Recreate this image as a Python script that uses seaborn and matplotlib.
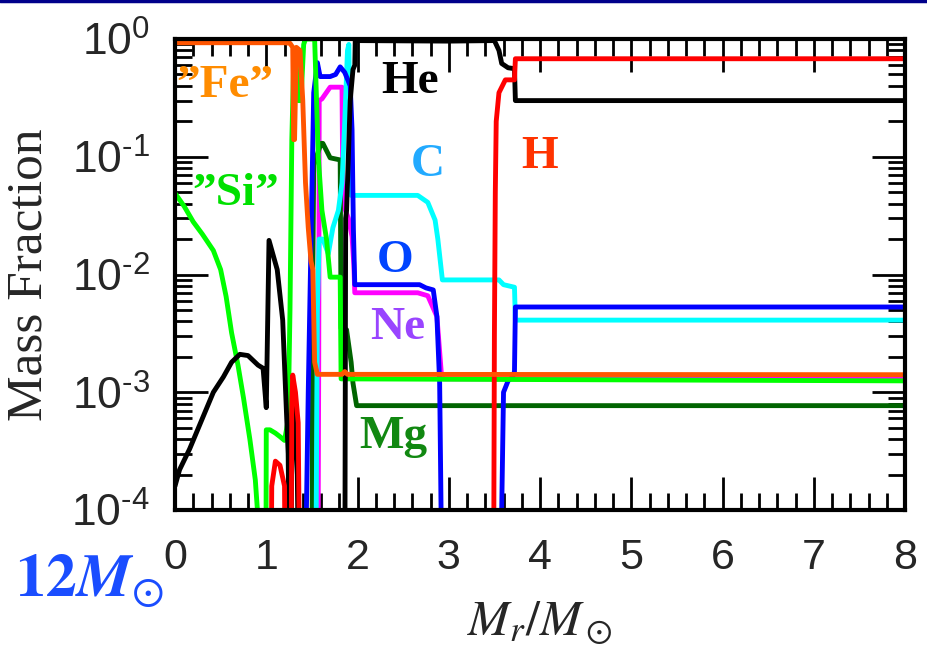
import numpy as np
import pandas as pd
import matplotlib
matplotlib.use("Agg")
import matplotlib.pyplot as plt
import seaborn as sns
from matplotlib.ticker import LogLocator, MultipleLocator, FuncFormatter, NullFormatter

# mass fraction profiles of the 12 Msun pre-supernova star
# values of 1e-5 mean "below the plotted range"
fe_x = [0, 1.20, 1.26, 1.29, 1.30, 1.31, 1.33, 1.37, 1.40, 1.43, 1.46, 1.49, 1.51, 1.53, 1.56, 1.83, 1.86, 1.89, 8]
fe_y = [0.93, 0.93, 0.92, 0.85, 0.14, 0.14, 0.85, 0.8, 0.3, 0.06, 0.025, 0.013, 0.011, 0.0018, 0.00142, 0.00142, 0.0015, 0.00142, 0.00141]

si_x = [0, 0.1, 0.2, 0.3, 0.42, 0.5, 0.56, 0.62, 0.69, 0.75, 0.82, 0.88, 0.93, 0.995, 1.0, 1.04, 1.10, 1.15, 1.20, 1.24, 1.26, 1.28, 1.30, 1.32, 1.35, 1.38, 1.41, 1.43, 1.53, 1.57, 1.61, 1.66, 1.70, 1.81, 1.82, 8]
si_y = [0.049, 0.038, 0.028, 0.022, 0.016, 0.011, 0.0065, 0.0032, 0.0017, 0.0009, 0.0004, 0.00018, 5e-5, 1e-5, 4.8e-4, 4.8e-4, 4.5e-4, 4.2e-4, 3.9e-4, 5.8e-4, 0.005, 0.14, 0.6, 0.8, 0.3, 0.3, 0.9, 1.0, 1.0, 0.1, 0.035, 0.02, 0.0095, 0.0095, 0.0013, 0.00125]

he_x = [0, 0.05, 0.16, 0.3, 0.42, 0.53, 0.62, 0.71, 0.80, 0.91, 0.965, 1.0, 1.03, 1.12, 1.18, 1.24, 1.26, 1.27, 1.28, 1.29, 1.31, 1.34, 1.36, 1.86, 1.87, 1.88, 1.92, 1.95, 1.97, 1.975, 3.0, 3.50, 3.55, 3.58, 3.65, 3.72, 3.73, 8]
he_y = [1.6e-4, 2.2e-4, 3.3e-4, 6e-4, 1e-3, 1.35e-3, 1.8e-3, 2.1e-3, 2.05e-3, 1.7e-3, 1.6e-3, 7.4e-4, 0.0195, 0.011, 0.0041, 3e-4, 1e-5, 1e-5, 5e-4, 9e-4, 6e-4, 2e-4, 1e-5, 1e-5, 0.03, 0.035, 0.3, 0.55, 0.6, 0.97, 0.96, 0.97, 0.8, 0.62, 0.57, 0.56, 0.30, 0.30]

h_x = [0, 1.05, 1.06, 1.10, 1.15, 1.20, 1.21, 1.27, 1.28, 1.29, 1.32, 1.35, 1.37, 3.49, 3.50, 3.51, 3.52, 3.55, 3.62, 3.72, 3.73, 8]
h_y = [1e-5, 1e-5, 1.6e-4, 2.6e-4, 2.4e-4, 1.6e-4, 1e-5, 1e-5, 8e-4, 1.4e-3, 1e-3, 5.5e-4, 1e-5, 1e-5, 0.003, 0.05, 0.2, 0.35, 0.45, 0.45, 0.68, 0.68]

o_x = [0, 1.42, 1.46, 1.50, 1.52, 1.56, 1.59, 1.70, 1.76, 1.81, 1.86, 1.92, 1.94, 1.955, 1.97, 2.68, 2.75, 2.83, 2.87, 2.90, 2.93, 3.56, 3.60, 3.65, 3.70, 3.72, 3.73, 8]
o_y = [1e-5, 1e-5, 0.001, 0.05, 0.35, 0.63, 0.48, 0.48, 0.5, 0.58, 0.52, 0.4, 0.17, 0.024, 0.0082, 0.0082, 0.0077, 0.0074, 0.0044, 0.0012, 1e-5, 1e-5, 1e-3, 1.25e-3, 1.35e-3, 1.5e-3, 0.0053, 0.0053]

c_x = [0, 1.54, 1.56, 1.58, 1.62, 1.68, 1.73, 1.79, 1.83, 1.86, 1.89, 1.905, 1.915, 1.93, 2.66, 2.77, 2.85, 2.88, 2.93, 3.55, 3.60, 3.72, 3.73, 8]
c_y = [1e-5, 1e-5, 0.005, 0.02, 0.02, 0.015, 0.025, 0.035, 0.06, 0.2, 0.8, 0.9, 0.2, 0.047, 0.047, 0.041, 0.029, 0.02, 0.009, 0.009, 0.0082, 0.0078, 0.0041, 0.0041]

ne_x = [0, 1.565, 1.575, 1.58, 1.61, 1.70, 1.83, 1.84, 1.90, 1.94, 1.96, 1.97, 2.66, 2.77, 2.87, 2.92, 2.94, 8]
ne_y = [1e-5, 1e-5, 0.002, 0.3, 0.31, 0.39, 0.39, 0.04, 0.03, 0.021, 0.012, 0.0070, 0.0070, 0.0066, 0.0044, 0.0014, 0.0013, 0.0013]

mg_x = [0, 1.50, 1.51, 1.52, 1.60, 1.62, 1.70, 1.81, 1.82, 1.88, 1.93, 1.95, 1.99, 8]
mg_y = [1e-5, 1e-5, 0.01, 0.085, 0.13, 0.13, 0.098, 0.094, 0.0035, 0.0034, 0.0018, 0.0012, 0.00077, 0.00077]

species = ["Ne", "Mg", "C", "O", "Si", "He", "H", "Fe"]
line_colors = {"He": "#000000", "H": "#ff0000", "C": "#00ffff", "O": "#0000ff",
               "Ne": "#ff00ff", "Mg": "#006400", "Si": "#00ff00", "Fe": "#ff5500"}

# text labels: name, x, y, colour
labels = [("\u201dFe\u201d", 0.55, 0.40, "#ff8c00"),
          ("\u201dSi\u201d", 0.66, 0.048, "#00e000"),
          ("He", 2.58, 0.43, "#000000"),
          ("C", 2.77, 0.085, "#22aaff"),
          ("H", 4.0, 0.10, "#ff3300"),
          ("O", 2.41, 0.013, "#0044ff"),
          ("Ne", 2.44, 0.0035, "#9944ff"),
          ("Mg", 2.39, 4.2e-4, "#118811")]

data = {"Fe": (fe_x, fe_y), "Si": (si_x, si_y), "He": (he_x, he_y), "H": (h_x, h_y),
        "O": (o_x, o_y), "C": (c_x, c_y), "Ne": (ne_x, ne_y), "Mg": (mg_x, mg_y)}
frames = []
for name in species:
    xs, ys = data[name]
    frames.append(pd.DataFrame({"Mr": xs, "X": ys, "species": name}))
df = pd.concat(frames, ignore_index=True)

sns.set_theme(style="ticks")
plt.rcParams['font.family'] = ['Liberation Sans', 'DejaVu Sans']
plt.rcParams['mathtext.fontset'] = 'custom'
plt.rcParams['mathtext.rm'] = 'Liberation Sans'
plt.rcParams['mathtext.it'] = 'Liberation Sans:italic'
plt.rcParams['mathtext.bf'] = 'Liberation Sans:bold'

fig = plt.figure(figsize=(9.27, 6.57), dpi=100)
ax = fig.add_axes([0.1888, 0.2237, 0.7875, 0.7169])

sns.lineplot(data=df, x="Mr", y="X", hue="species", hue_order=species,
             palette=line_colors, sort=False, estimator=None, linewidth=3.5,
             legend=False, ax=ax)

ax.set_yscale("log")
ax.set_xlim(0, 8)
ax.set_ylim(1e-4, 1)

ax.xaxis.set_major_locator(MultipleLocator(1))
ax.xaxis.set_minor_locator(MultipleLocator(0.2))
ax.yaxis.set_major_locator(LogLocator(base=10, numticks=10))
ax.yaxis.set_minor_locator(LogLocator(base=10, subs=np.arange(2, 10), numticks=20))
ax.yaxis.set_minor_formatter(NullFormatter())
ax.yaxis.set_major_formatter(FuncFormatter(lambda v, p: r"$10^{\mathrm{%s}}$" % str(int(round(np.log10(v)))).replace("-", "\u2010")))

ax.tick_params(which="both", direction="in", top=True, right=True, width=2, color="black")
ax.tick_params(which="major", length=24, labelsize=31)
ax.tick_params(axis="y", which="major", labelsize=32, pad=18)
ax.tick_params(axis="x", which="major", pad=20)
ax.tick_params(which="minor", length=12)
for sp in ax.spines.values():
    sp.set_linewidth(3)
    sp.set_color("black")

ax.set_ylabel("Mass Fraction", family="Liberation Serif", fontsize=37)
ax.yaxis.set_label_coords(-0.168, 0.5)
ax.set_xlabel(r"$M_r/M_\odot$", fontsize=36, math_fontfamily="stix")
ax.xaxis.set_label_coords(0.5, -0.19)

for text, x, y, col in labels:
    ax.text(x, y, text, color=col, fontsize=34, fontweight="bold",
            family="Liberation Serif", ha="center", va="center")

fig.text(0.097, 0.117, r"$\mathbf{12}\mathbfit{M}_{\odot}$", color="#1a4dff",
         fontsize=44, math_fontfamily="stix", ha="center", va="center")

fig.add_artist(plt.Line2D([0, 1], [0.998, 0.998], transform=fig.transFigure,
                          color="#00008b", lw=2.5))

fig.savefig("out.png", dpi=100)
